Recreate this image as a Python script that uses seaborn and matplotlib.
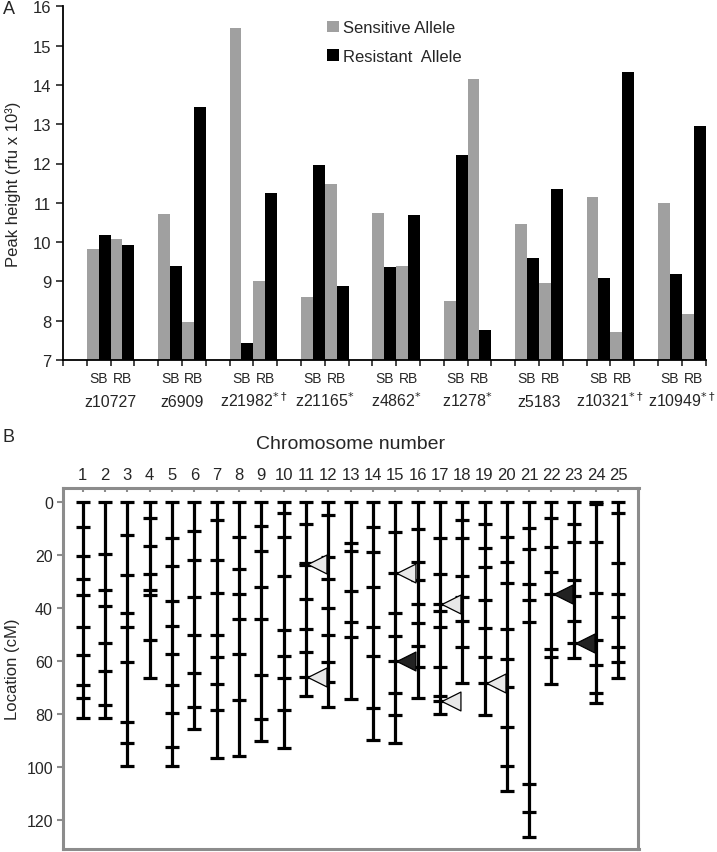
import matplotlib
matplotlib.use("Agg")
import matplotlib.pyplot as plt
import matplotlib.transforms as mtransforms
import numpy as np
import pandas as pd
import seaborn as sns

sns.set_style("ticks")
plt.rcParams["font.family"] = ["Liberation Sans", "DejaVu Sans"]

# ---- panel A data: peak heights (rfu x 10^3)
markers = ["z10727", "z6909", "z21982$^{*\\dagger}$", "z21165$^{*}$", "z4862$^{*}$",
           "z1278$^{*}$", "z5183", "z10321$^{*\\dagger}$", "z10949$^{*\\dagger}$"]
bulks = ["SB", "RB"]
sens_sb = [9.82, 10.72, 15.44, 8.61, 10.75, 8.49, 10.46, 11.14, 11.00]
res_sb = [10.19, 9.40, 7.42, 11.96, 9.37, 12.21, 9.59, 9.08, 9.20]
sens_rb = [10.09, 7.97, 9.00, 11.49, 9.40, 14.15, 8.95, 7.71, 8.16]
res_rb = [9.92, 13.44, 11.26, 8.88, 10.69, 7.77, 11.35, 14.32, 12.96]

# ---- panel B data: marker locations (cM) per chromosome
chr1 = [0, 9.7, 20.5, 29.0, 35.2, 47.4, 57.9, 69.3, 74.1, 81.4]
chr2 = [0, 19.7, 33.3, 39.4, 53.3, 63.8, 76.6, 81.4]
chr3 = [0, 12.7, 27.7, 42.0, 47.2, 60.6, 83.1, 91.1, 99.6]
chr4 = [0, 6.2, 16.5, 27.4, 33.2, 35.1, 52.2, 66.3]
chr5 = [0, 13.5, 24.4, 37.4, 46.7, 57.6, 69.3, 79.7, 92.7, 99.6]
chr6 = [0, 11.0, 21.8, 36.1, 50.2, 64.5, 77.6, 85.9]
chr7 = [0, 6.7, 22.0, 34.6, 50.4, 58.7, 68.7, 78.6, 96.7]
chr8 = [0, 13.3, 25.5, 34.9, 44.4, 57.6, 74.6, 96.1]
chr9 = [0, 9.3, 18.6, 32.3, 44.2, 65.4, 82.1, 90.4]
chr10 = [0, 4.4, 13.3, 27.9, 48.5, 58.2, 66.3, 78.5, 92.9]
chr11 = [0, 8.4, 23.0, 24.0, 36.8, 47.9, 56.7, 66.0, 73.2]
chr12 = [0, 4.9, 20.7, 29.1, 39.9, 50.3, 60.6, 67.9, 77.3]
chr13 = [0, 15.5, 18.7, 33.8, 45.3, 51.2, 74.5]
chr14 = [0, 9.5, 18.9, 32.3, 47.4, 58.3, 77.9, 89.8]
chr15 = [0, 11.4, 26.9, 41.9, 50.6, 60.0, 72.3, 80.3, 90.9]
chr16 = [0, 10.1, 22.9, 29.5, 38.6, 45.7, 54.3, 62.5, 73.9]
chr17 = [0, 13.7, 27.4, 38.6, 41.1, 47.4, 62.3, 73.2, 75.1, 79.9]
chr18 = [0, 6.9, 13.8, 27.9, 36.1, 44.9, 54.8, 68.4]
chr19 = [0, 8.2, 17.6, 24.5, 37.2, 47.7, 58.4, 68.4, 80.4]
chr20 = [0, 13.2, 22.6, 30.8, 48.0, 59.4, 69.8, 84.8, 99.6, 109.2]
chr21 = [0, 9.8, 18.0, 31.1, 37.1, 45.4, 106.5, 117.0, 126.3]
chr22 = [0, 6.3, 17.0, 26.5, 34.8, 55.7, 58.7, 68.7]
chr23 = [0, 8.3, 15.3, 29.5, 35.5, 44.9, 53.3, 59.0]
chr24 = [0, 0.8, 15.2, 34.6, 52.2, 61.6, 72.3, 75.8]
chr25 = [0, 4.3, 23.1, 34.8, 43.5, 54.7, 60.6, 66.5]
chromosomes = [chr1, chr2, chr3, chr4, chr5, chr6, chr7, chr8, chr9, chr10,
               chr11, chr12, chr13, chr14, chr15, chr16, chr17, chr18, chr19,
               chr20, chr21, chr22, chr23, chr24, chr25]

# arrowheads: chromosome on the left side of the arrow, location, filled?
arrow_chrom = [11, 11, 15, 15, 17, 17, 19, 22, 23]
arrow_cm = [23.5, 66.0, 27.0, 60.0, 38.5, 75.0, 68.3, 34.8, 53.3]
arrow_filled = [False, False, False, True, False, False, False, True, True]

GRAY = "#a0a0a0"
BORDER = "#8c8c8c"

fig = plt.figure(figsize=(7.17, 8.53), dpi=100)

# ================= panel A =================
ax = fig.add_axes([63 / 717, 1 - 361 / 853, (705.5 - 63) / 717, (361 - 7.3) / 853])

rows = []
for i in range(len(markers)):
    sb_pos, rb_pos = 3 * i + 1, 3 * i + 2
    rows.append((sb_pos, sens_sb[i], "Sensitive Allele"))
    rows.append((sb_pos, res_sb[i], "Resistant  Allele"))
    rows.append((rb_pos, sens_rb[i], "Sensitive Allele"))
    rows.append((rb_pos, res_rb[i], "Resistant  Allele"))
df = pd.DataFrame(rows, columns=["pos", "value", "allele"])

sns.barplot(data=df, x="pos", y="value", hue="allele", native_scale=True,
            palette=[GRAY, "black"], width=1.0, saturation=1, linewidth=0,
            errorbar=None, ax=ax)

ax.set_ylim(7, 16)
ax.set_xlim(-0.5, 3 * len(markers) - 0.5)
ax.set_yticks(np.arange(7, 17, 1))
ax.set_xticks(np.arange(-0.5, 3 * len(markers), 1))
ax.set_xticklabels([])
sb_rb_pos = [p for i in range(len(markers)) for p in (3 * i + 1, 3 * i + 2)]
ax.set_xticks(sb_rb_pos, minor=True)
ax.set_xticklabels(bulks * len(markers), minor=True, fontsize=10)
ax.tick_params(axis="x", which="minor", length=0, pad=8)
ax.tick_params(axis="x", which="major", length=4, width=1.2, direction="out")
ax.tick_params(axis="y", labelsize=12, length=5, width=1.2, direction="out")
ax.set_xlabel("")
ax.set_ylabel("Peak height (rfu x 10³)", fontsize=12)
ax.yaxis.set_label_coords(-0.066, 0.5)
for s in ["top", "right"]:
    ax.spines[s].set_visible(False)
for s in ["left", "bottom"]:
    ax.spines[s].set_linewidth(1.3)
    ax.spines[s].set_color("black")

trans = mtransforms.blended_transform_factory(ax.transData, ax.transAxes)
for i, name in enumerate(markers):
    ax.text(3 * i + 1.5, -0.1287, name, transform=trans, ha="center",
            va="baseline", fontsize=11.5)

handles, labels = ax.get_legend_handles_labels()
ax.legend(handles, labels, loc="upper left", bbox_to_anchor=(0.388, 1.003),
          frameon=False, fontsize=12, handlelength=0.7, handleheight=0.7,
          handletextpad=0.25, labelspacing=0.8)

fig.text(3 / 717, 1 - 14 / 853, "A", fontsize=13, va="baseline")

# ================= panel B =================
bx = fig.add_axes([62.7 / 717, 1 - 850 / 853, (638.5 - 62.7) / 717, (850 - 489) / 853])

for c, locs in enumerate(chromosomes, start=1):
    bx.vlines(c, min(locs), max(locs), color="black", linewidth=2.3, zorder=2)
    bx.plot([c] * len(locs), locs, linestyle="none", marker="_",
            markersize=10.5, markeredgewidth=2.3, color="black", zorder=2)

for c, loc, filled in zip(arrow_chrom, arrow_cm, arrow_filled):
    bx.scatter(c + 0.5, loc, marker="<", s=185,
               facecolor="#222222" if filled else "#e8e8e8",
               edgecolor="black", linewidth=0.9, zorder=3)

bx.set_xlim(0.1, 25.9)
bx.set_ylim(131, -5.2)
bx.xaxis.tick_top()
bx.set_xticks(range(1, 26))
bx.set_xticklabels([str(i) for i in range(1, 26)], fontsize=12)
bx.set_yticks(range(0, 121, 20))
bx.tick_params(axis="y", labelsize=11.5, length=4, width=1.5, color=BORDER,
               direction="out", pad=3)
bx.tick_params(axis="x", top=True, bottom=False, length=3, width=1.5,
               color=BORDER, direction="in", pad=4.5)
for s in bx.spines.values():
    s.set_color(BORDER)
    s.set_linewidth(2.2)
bx.set_ylabel("Location (cM)", fontsize=12)
bx.yaxis.set_label_coords(-0.074, 0.5)
bx.text(0.5, 1.111, "Chromosome number", transform=bx.transAxes,
        ha="center", va="baseline", fontsize=14)

fig.text(3 / 717, 1 - 442 / 853, "B", fontsize=13, va="baseline")

fig.savefig("out.png", dpi=100)
